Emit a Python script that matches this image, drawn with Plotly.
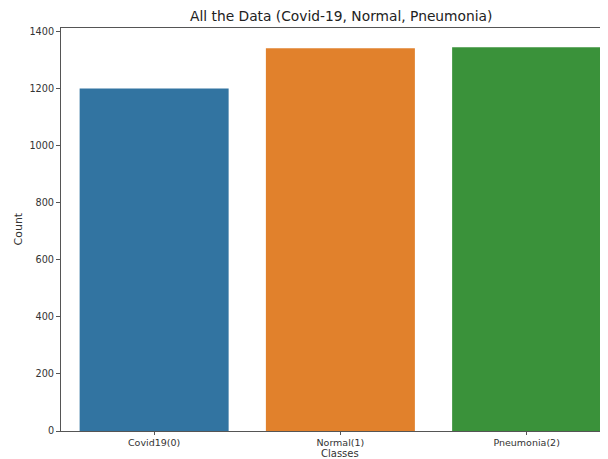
import plotly.graph_objects as go

categories = ["Covid19(0)", "Normal(1)", "Pneumonia(2)"]
counts = [1200, 1341, 1345]
colors = ["#3274a1", "#e1812c", "#3a923a"]
y_ticks = [0, 200, 400, 600, 800, 1000, 1200, 1400]

fig = go.Figure(
    go.Bar(
        x=[0, 1, 2],
        y=counts,
        marker=dict(color=colors, line=dict(width=0)),
        width=0.8,
        hoverinfo="x+y",
    )
)

font_family = "DejaVu Sans"
L, T, B = 53, 20, 36
fig.update_layout(
    width=608,
    height=459,
    margin=dict(l=L, r=0, t=T, b=B, autoexpand=False),
    paper_bgcolor="white",
    plot_bgcolor="white",
    showlegend=False,
    font=dict(family=font_family, color="#333333", size=9.7),
    annotations=[
        dict(
            text="All the Data (Covid-19, Normal, Pneumonia)",
            xref="paper", yref="paper",
            x=(332.5 - L) / (608 - L), y=1,
            xanchor="center", yanchor="middle",
            yshift=12.5, showarrow=False,
            font=dict(family=font_family, size=13.8, color="#222222"),
        ),
        dict(
            text="Count",
            xref="paper", yref="paper",
            x=0, y=0.5, xshift=-(L - 10),
            xanchor="center", yanchor="middle",
            textangle=-90, showarrow=False,
            font=dict(family=font_family, size=11, color="#333333"),
        ),
        dict(
            text="Classes",
            xref="x", yref="paper",
            x=1, y=0, yshift=-22.5,
            xanchor="center", yanchor="middle",
            showarrow=False,
            font=dict(family=font_family, size=10, color="#333333"),
        ),
    ],
)

fig.update_xaxes(
    range=[-0.5, -0.5 + 555 / 186.25],
    tickmode="array",
    tickvals=[0, 1, 2],
    ticktext=categories,
    showline=True,
    linecolor="#555555",
    linewidth=1,
    mirror=True,
    ticks="outside",
    ticklen=3,
    tickcolor="#555555",
    showgrid=False,
    zeroline=False,
    tickfont=dict(size=9.5, color="#333333"),
    automargin=False,
)
fig.update_yaxes(
    range=[0, 1345 * 1.05],
    tickmode="array",
    tickvals=y_ticks,
    showline=True,
    linecolor="#555555",
    linewidth=1,
    ticks="outside",
    ticklen=4,
    tickcolor="#555555",
    showgrid=False,
    zeroline=False,
    tickfont=dict(size=9.7, color="#333333"),
    automargin=False,
)

fig.write_html("out.html")
